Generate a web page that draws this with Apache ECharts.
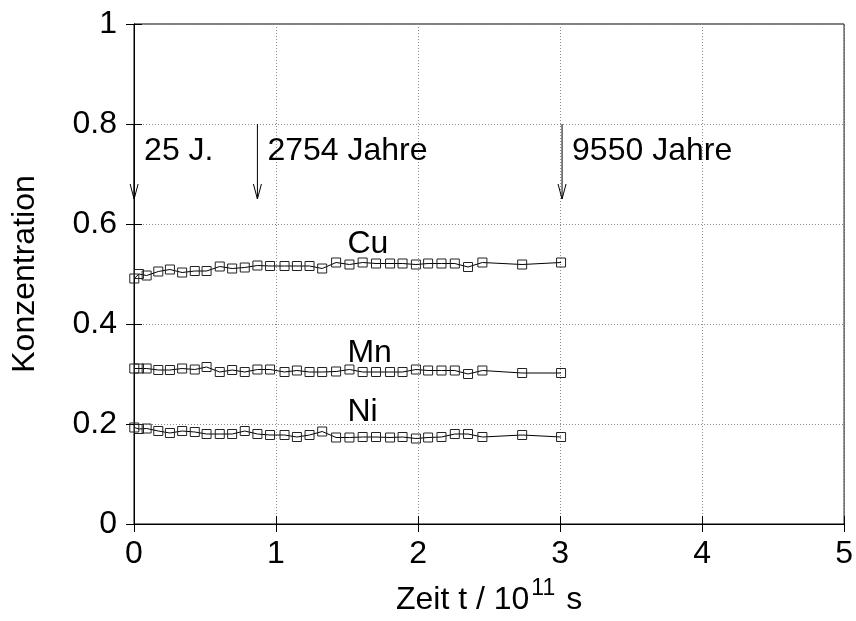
<!DOCTYPE html>
<html>
<head>
<meta charset="utf-8">
<script src="https://cdn.jsdelivr.net/npm/echarts@6/dist/echarts.min.js"></script>
<style>
  html, body { margin: 0; padding: 0; background: #fff; }
  #chart { width: 856px; height: 621px; }
</style>
</head>
<body>
<div id="chart"></div>
<script>
// Time in units of 1e11 s
const times = [0.002, 0.035, 0.089, 0.171, 0.253, 0.339, 0.428, 0.511, 0.604, 0.691,
               0.780, 0.869, 0.958, 1.060, 1.147, 1.236, 1.325, 1.423, 1.517, 1.610,
               1.704, 1.803, 1.891, 1.985, 2.071, 2.165, 2.259, 2.352, 2.453, 2.733, 3.007];
const cu = [0.491, 0.500, 0.497, 0.505, 0.509, 0.503, 0.506, 0.506, 0.515, 0.511,
            0.513, 0.517, 0.516, 0.516, 0.516, 0.516, 0.511, 0.523, 0.519, 0.523,
            0.521, 0.521, 0.521, 0.519, 0.521, 0.521, 0.521, 0.514, 0.523, 0.519, 0.523];
const mn = [0.311, 0.311, 0.311, 0.308, 0.308, 0.311, 0.309, 0.314, 0.304, 0.308,
            0.304, 0.309, 0.309, 0.304, 0.307, 0.304, 0.304, 0.305, 0.309, 0.304,
            0.304, 0.304, 0.304, 0.309, 0.307, 0.307, 0.307, 0.300, 0.307, 0.302, 0.302];
const ni = [0.193, 0.190, 0.191, 0.186, 0.182, 0.186, 0.184, 0.180, 0.180, 0.180,
            0.186, 0.180, 0.178, 0.178, 0.174, 0.178, 0.185, 0.173, 0.173, 0.174,
            0.174, 0.173, 0.174, 0.171, 0.173, 0.174, 0.180, 0.180, 0.174, 0.178, 0.174];

// Marked instants (25, 2754 and 9550 years expressed in 1e11 s)
const eventTimes = [0.0008, 0.869, 3.014];
const eventLabels = ['25 J.', '2754 Jahre', '9550 Jahre'];
const arrowFrom = 0.8;
const arrowTo = 0.65;
const eventLabelLevel = 0.746;

// Element names placed beside their curves
const elementNames = ['Cu', 'Mn', 'Ni'];
const elementLabelX = [1.503, 1.503, 1.503];
const elementLabelY = [0.559, 0.342, 0.224];

const FONT = '"Liberation Sans", Arial, Helvetica, sans-serif';
const FS = 32;

const pairs = (vals) => times.map((t, i) => [t, vals[i]]);

const lineSeries = (name, vals) => ({
  name: name,
  type: 'line',
  data: pairs(vals),
  symbol: 'rect',
  symbolSize: 9,
  showAllSymbol: true,
  lineStyle: { color: '#000', width: 1 },
  itemStyle: { color: 'rgba(0,0,0,0)', borderColor: '#222', borderWidth: 1 },
  emphasis: { disabled: true },
  animation: false,
  z: 3
});

const chart = echarts.init(document.getElementById('chart'), null, { renderer: 'canvas' });

const gridLine = { show: true, lineStyle: { color: '#8c8c8c', width: 1, type: [1, 2] } };

chart.setOption({
  backgroundColor: '#fff',
  animation: false,
  grid: { left: 134, right: 10, top: 24, bottom: 94, show: true, borderColor: '#000', borderWidth: 1 },
  xAxis: [{
    type: 'value', min: 0, max: 5, interval: 1,
    name: 'Zeit t / 10{sup|11} s',
    nameLocation: 'middle', nameGap: 53,
    nameTextStyle: {
      fontFamily: FONT, fontSize: FS, color: '#000', verticalAlign: 'top',
      rich: { sup: { fontFamily: FONT, fontSize: 23, color: '#000', padding: [0, 2, 23, 2], verticalAlign: 'bottom' } }
    },
    axisLine: { show: true, lineStyle: { color: '#000', width: 1 } },
    axisTick: { show: true, inside: true, length: 8, lineStyle: { color: '#000' } },
    axisLabel: { fontFamily: FONT, fontSize: FS, color: '#000', margin: 14 },
    splitLine: gridLine
  }, {
    type: 'value', min: 0, max: 5, interval: 1, position: 'top',
    axisLine: { show: true, lineStyle: { color: '#000' } },
    axisTick: { show: true, inside: true, length: 8, lineStyle: { color: '#000' } },
    axisLabel: { show: false }, splitLine: { show: false }
  }],
  yAxis: [{
    type: 'value', min: 0, max: 1, interval: 0.2,
    name: 'Konzentration',
    nameLocation: 'middle', nameGap: 93,
    nameTextStyle: { fontFamily: FONT, fontSize: FS, color: '#000' },
    axisLine: { show: true, lineStyle: { color: '#000', width: 1 } },
    axisTick: { show: true, inside: true, length: 8, lineStyle: { color: '#000' } },
    axisLabel: { fontFamily: FONT, fontSize: FS, color: '#000', margin: 17, padding: [6, 0, 0, 0] },
    splitLine: gridLine
  }, {
    type: 'value', min: 0, max: 1, interval: 0.2, position: 'right',
    axisLine: { show: true, lineStyle: { color: '#000' } },
    axisTick: { show: true, inside: true, length: 8, lineStyle: { color: '#000' } },
    axisLabel: { show: false }, splitLine: { show: false }
  }],
  series: [
    lineSeries('Cu', cu),
    lineSeries('Mn', mn),
    lineSeries('Ni', ni),
    {
      // Arrows marking the three instants, with their captions
      type: 'custom',
      data: eventTimes.map((t, i) => [t, arrowFrom, arrowTo, eventLabelLevel]),
      silent: true,
      z: 4,
      renderItem: function (params, api) {
        const x = api.value(0);
        const top = api.coord([x, api.value(1)]);
        const tip = api.coord([x, api.value(2)]);
        const lab = api.coord([x, api.value(3)]);
        return {
          type: 'group',
          children: [
            { type: 'line', shape: { x1: top[0], y1: top[1], x2: tip[0], y2: tip[1] },
              style: { stroke: '#000', lineWidth: 1 } },
            { type: 'polyline', shape: { points: [[tip[0] - 4, tip[1] - 15], [tip[0], tip[1]], [tip[0] + 4, tip[1] - 15]] },
              style: { stroke: '#000', fill: null, lineWidth: 1 } },
            { type: 'text', x: lab[0] + 10, y: lab[1],
              style: { text: eventLabels[params.dataIndex], font: FS + 'px ' + FONT, fill: '#000',
                       align: 'left', verticalAlign: 'middle' } }
          ]
        };
      }
    },
    {
      // Element names next to their curves
      type: 'custom',
      data: elementNames.map((n, i) => [elementLabelX[i], elementLabelY[i]]),
      silent: true,
      z: 4,
      renderItem: function (params, api) {
        const p = api.coord([api.value(0), api.value(1)]);
        return {
          type: 'text', x: p[0], y: p[1],
          style: { text: elementNames[params.dataIndex], font: FS + 'px ' + FONT, fill: '#000',
                   align: 'left', verticalAlign: 'middle' }
        };
      }
    }
  ]
});
</script>
</body>
</html>
